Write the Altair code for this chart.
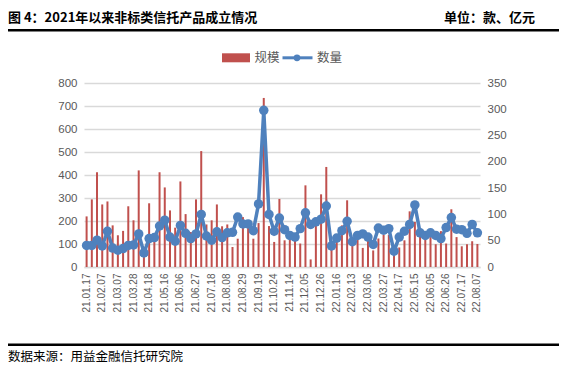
import altair as alt
import pandas as pd

dates = [
    "21.01.17", "21.01.24", "21.01.31", "21.02.07", "21.02.21", "21.02.28", "21.03.07", "21.03.14", "21.03.21", "21.03.28",
    "21.04.04", "21.04.11", "21.04.18", "21.04.25", "21.05.09", "21.05.16", "21.05.23", "21.05.30", "21.06.06", "21.06.13",
    "21.06.20", "21.06.27", "21.07.04", "21.07.11", "21.07.18", "21.07.25", "21.08.01", "21.08.08", "21.08.15", "21.08.22",
    "21.08.29", "21.09.05", "21.09.12", "21.09.19", "21.09.26", "21.10.17", "21.10.24", "21.10.31", "21.11.07", "21.11.14",
    "21.11.21", "21.11.28", "21.12.05", "21.12.12", "21.12.19", "21.12.26", "22.01.02", "22.01.09", "22.01.16", "22.01.23",
    "22.01.30", "22.02.13", "22.02.20", "22.02.27", "22.03.06", "22.03.13", "22.03.20", "22.03.27", "22.04.03", "22.04.10",
    "22.04.17", "22.04.24", "22.05.08", "22.05.15", "22.05.22", "22.05.29", "22.06.05", "22.06.12", "22.06.19", "22.06.26",
    "22.07.03", "22.07.10", "22.07.17", "22.07.24", "22.07.31", "22.08.07",
]

scale_vals = [
    220, 294, 412, 272, 285, 181, 138, 157, 264, 203,
    420, 45, 277, 120, 412, 346, 246, 171, 372, 230,
    152, 294, 504, 185, 203, 272, 177, 185, 87, 123,
    217, 188, 123, 191, 735, 178, 109, 296, 116, 120,
    120, 102, 355, 33, 186, 316, 435, 95, 112, 181,
    290, 118, 135, 83, 115, 72, 124, 140, 140, 60,
    85, 116, 242, 196, 160, 130, 130, 99, 156, 102,
    251, 130, 90, 99, 112, 100,
]

count_vals = [
    41, 41, 51, 40, 68, 36, 32, 35, 41, 42,
    63, 27, 54, 56, 78, 89, 57, 49, 79, 64,
    54, 63, 100, 59, 51, 67, 56, 65, 66, 95,
    82, 82, 69, 120, 298, 100, 68, 93, 71, 60,
    57, 73, 103, 81, 86, 91, 116, 40, 55, 69,
    87, 48, 60, 63, 57, 43, 74, 70, 73, 30,
    57, 68, 81, 118, 65, 60, 65, 60, 54, 75,
    94, 72, 71, 64, 81, 65,
]

tick_labels = dates[::3]
left_ticks = list(range(0, 801, 100))
right_ticks = list(range(0, 351, 50))

title_text = "图 4：2021年以来非标类信托产品成立情况"
unit_text = "单位：款、亿元"
source_text = "数据来源：用益金融信托研究院"
legend_names = ["规模", "数量"]

df = pd.DataFrame({"date": dates, "规模": scale_vals, "数量": count_vals})
one = pd.DataFrame({"a": [0]})

AX_COLOR = "#595959"
GRID = "#d9d9d9"
RED = "#c0504d"
BLUE = "#4f81bd"
LATIN = "Liberation Sans"
CJK = "Noto Sans CJK SC"

x_enc = alt.X(
    "date:N", sort=None,
    scale=alt.Scale(paddingInner=0, paddingOuter=0),
    axis=alt.Axis(values=tick_labels, labelAngle=-90, title=None, ticks=False,
                  domain=True, domainColor=GRID, domainWidth=1.5, grid=False,
                  labelColor=AX_COLOR, labelFontSize=10, labelFont=LATIN,
                  labelPadding=6, labelOverlap=False),
)

bars = alt.Chart(df).mark_bar(color=RED, size=2).encode(
    x=x_enc,
    y=alt.Y("规模:Q", scale=alt.Scale(domain=[0, 800], nice=False),
            axis=alt.Axis(values=left_ticks, title=None, ticks=False, domain=False,
                          gridColor=GRID, gridWidth=1.5, labelColor=AX_COLOR,
                          labelFontSize=11.5, labelFont=LATIN, labelPadding=7)),
)

line = alt.Chart(df).mark_line(
    color=BLUE, strokeWidth=3.5,
    point=alt.OverlayMarkDef(filled=True, size=90, color=BLUE, opacity=1),
).encode(
    x=x_enc,
    y=alt.Y("数量:Q", scale=alt.Scale(domain=[0, 350], nice=False),
            axis=alt.Axis(orient="right", values=right_ticks, title=None, ticks=False,
                          domain=False, grid=False, labelColor=AX_COLOR,
                          labelFontSize=11.5, labelFont=LATIN, labelPadding=7)),
)

base1 = alt.Chart(one)

title = base1.mark_text(align="left", baseline="middle", font=CJK, fontWeight="bold",
                        fontSize=13, color="black", text=title_text).encode(
    x=alt.value(-76), y=alt.value(-65.3))
unit = base1.mark_text(align="right", baseline="middle", font=CJK, fontWeight="bold",
                       fontSize=13, color="black", text=unit_text).encode(
    x=alt.value(451), y=alt.value(-65.3))
top_rule = base1.mark_rule(color="black", strokeWidth=2.5).encode(
    x=alt.value(-76), x2=alt.value(476), y=alt.value(-52.7))
bottom_rule = base1.mark_rule(color="black", strokeWidth=2.5).encode(
    x=alt.value(-76), x2=alt.value(476), y=alt.value(261.8))
source = base1.mark_text(align="left", baseline="middle", font=CJK,
                         fontSize=12.5, color="black", text=source_text).encode(
    x=alt.value(-76), y=alt.value(274.3))

leg_rect = base1.mark_rect(color=RED).encode(
    x=alt.value(138), x2=alt.value(166), y=alt.value(-29.7), y2=alt.value(-20.7))
leg_t1 = base1.mark_text(align="left", baseline="middle", font=CJK, fontSize=12.5,
                         color=AX_COLOR, text=legend_names[0]).encode(
    x=alt.value(170.5), y=alt.value(-25.5))
leg_line = base1.mark_rule(color=BLUE, strokeWidth=3).encode(
    x=alt.value(198.5), x2=alt.value(228.5), y=alt.value(-25.2))
leg_pt = base1.mark_point(filled=True, color=BLUE, size=45, opacity=1).encode(
    x=alt.value(213), y=alt.value(-25.2))
leg_t2 = base1.mark_text(align="left", baseline="middle", font=CJK, fontSize=12.5,
                         color=AX_COLOR, text=legend_names[1]).encode(
    x=alt.value(233), y=alt.value(-25.5))

chart = alt.layer(
    bars, line, title, unit, top_rule, bottom_rule, source,
    leg_rect, leg_t1, leg_line, leg_pt, leg_t2,
).resolve_scale(y="independent").properties(
    width=396, height=184,
    autosize=alt.AutoSizeParams(type="none"),
    padding={"left": 76, "top": 75, "right": 79, "bottom": 98},
    background="white",
).configure_view(stroke=None)

chart.save("out.html", embed_options={"renderer": "svg", "actions": False})
